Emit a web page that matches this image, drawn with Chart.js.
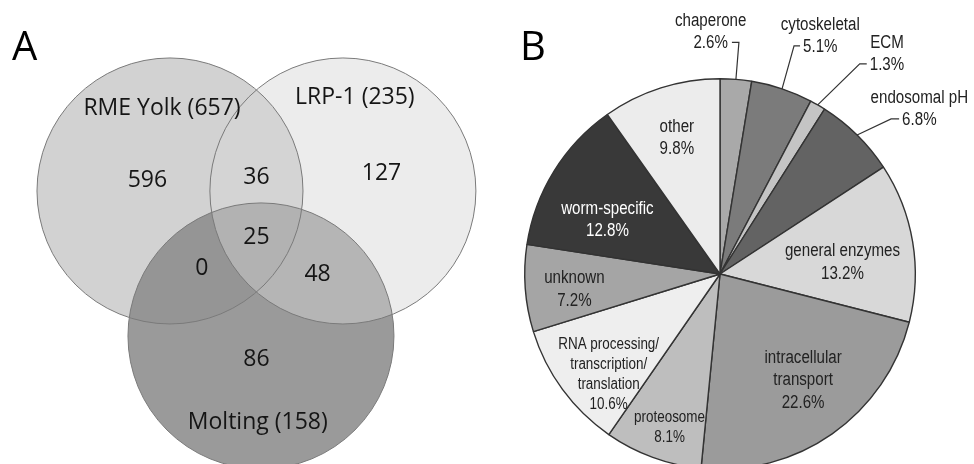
<!DOCTYPE html>
<html>
<head>
<meta charset="utf-8">
<script src="https://cdn.jsdelivr.net/npm/chart.js@4.4.1/dist/chart.umd.min.js"></script>
<style>
  body { margin: 0; background: #fff; overflow: hidden; }
  #wrap { position: relative; width: 974px; height: 464px; overflow: hidden; }
  #venn { position: absolute; left: 0; top: 0; }
  #pie { position: absolute; left: 490px; top: 0; }
</style>
</head>
<body>
<div id="wrap">
  <canvas id="venn" width="490" height="464"></canvas>
  <canvas id="pie" width="484" height="490"></canvas>
</div>
<script>
// ---- panel A: venn ----
const setNames = ['RME Yolk', 'LRP-1', 'Molting'];
const setTotals = [657, 235, 158];
// only RME, only LRP-1, only Molting, RME+LRP-1, RME+Molting, LRP-1+Molting, all three
const regionCounts = [596, 127, 86, 36, 0, 48, 25];

// ---- panel B: pie ----
const categories = ['chaperone', 'cytoskeletal', 'ECM', 'endosomal pH', 'general enzymes',
  'intracellular transport', 'proteosome', 'RNA processing/transcription/translation',
  'unknown', 'worm-specific', 'other'];
const percents = [2.6, 5.1, 1.3, 6.8, 13.2, 22.6, 8.1, 10.6, 7.2, 12.8, 9.8];
const labelLines = [['chaperone'], ['cytoskeletal'], ['ECM'], ['endosomal pH'], ['general enzymes'],
  ['intracellular', 'transport'], ['proteosome'], ['RNA processing/', 'transcription/', 'translation'],
  ['unknown'], ['worm-specific'], ['other']];

// venn layout, in circle-radius units (radius = 1)
const circleCenters = [[0, 0], [1.3, 0], [0.684, -1.09]];
const circleFills = ['rgb(210,210,210)', 'rgba(213,213,213,0.46)', 'rgba(141,141,141,0.89)'];
const drawOrder = [0, 2, 1];
const regionPos = [[-0.17, 0.08], [1.59, 0.135], [0.65, -1.27], [0.65, 0.105], [0.24, -0.58], [1.11, -0.63], [0.65, -0.35]];
const setLabelPos = [[-0.06, 0.62], [1.39, 0.70], [0.66, -1.74]];

const vennText = {
  id: 'vennText',
  afterDatasetsDraw(chart) {
    const { ctx, scales: { x, y } } = chart;
    ctx.save();
    ctx.fillStyle = '#151515';
    ctx.textAlign = 'center';
    ctx.textBaseline = 'middle';
    ctx.font = '23px "Open Sans"';
    regionCounts.forEach((n, i) => {
      ctx.fillText(String(n), x.getPixelForValue(regionPos[i][0]), y.getPixelForValue(regionPos[i][1]));
    });
    setNames.forEach((name, i) => {
      ctx.fillText(name + ' (' + setTotals[i] + ')', x.getPixelForValue(setLabelPos[i][0]), y.getPixelForValue(setLabelPos[i][1]));
    });
    ctx.font = '40px "Open Sans"';
    ctx.textAlign = 'left';
    ctx.textBaseline = 'alphabetic';
    ctx.fillStyle = '#000';
    ctx.fillText('A', 12, 60);
    ctx.restore();
  }
};

// radius of one unit circle, taken from the x scale
const unitPx = (ctx) => {
  const xs = ctx.chart.scales.x;
  return xs ? xs.getPixelForValue(1) - xs.getPixelForValue(0) : 0;
};

new Chart(document.getElementById('venn'), {
  type: 'scatter',
  data: {
    datasets: [
      {
        label: 'outline',
        data: circleCenters.map(c => ({ x: c[0], y: c[1] })),
        pointBackgroundColor: 'rgba(0,0,0,0)',
        pointBorderColor: '#7a7a7a',
        pointBorderWidth: 1,
        pointRadius: unitPx,
        order: 0
      },
      {
        label: 'fill',
        data: drawOrder.map(i => ({ x: circleCenters[i][0], y: circleCenters[i][1] })),
        pointBackgroundColor: drawOrder.map(i => circleFills[i]),
        pointBorderWidth: 0,
        pointRadius: unitPx,
        order: 1
      }
    ]
  },
  options: {
    responsive: false,
    animation: false,
    events: [],
    layout: { autoPadding: false, padding: 0 },
    scales: {
      x: { type: 'linear', min: -1.278, max: 2.406, display: false },
      y: { type: 'linear', min: -2.053, max: 1.436, display: false }
    },
    plugins: { legend: { display: false }, tooltip: { enabled: false } }
  },
  plugins: [vennText]
});

// pie label layout
const sliceColors = ['#a9a9a9', '#7b7b7b', '#c4c4c4', '#636363', '#d8d8d8', '#9b9b9b',
  '#bebebe', '#eeeeee', '#a5a5a5', '#393939', '#ececec'];
const insideLabels = [null, null, null, null,
  { frac: 0.63, shift: 4, size: 18, lh: 23 },
  { frac: 0.69, shift: -3, size: 18, lh: 22.5 },
  { frac: 0.83, shift: -2, size: 16, lh: 20 },
  { frac: 0.77, shift: -6, size: 16, lh: 20 },
  { frac: 0.75, shift: -2, size: 18, lh: 23 },
  { frac: 0.64, shift: -6, size: 18, lh: 22, color: '#fff' },
  { frac: 0.73, shift: 0, size: 18, lh: 22 }];
const outsideLabels = [
  { ex: 3, ey: -37, tx: -7 },
  { ex: 12, ey: -43, tx: 6 },
  { ex: 42, ey: -41, tx: 7 },
  { ex: 34, ey: -16, tx: 8 }];
const narrow = 0.84; // the figure uses a condensed sans

function narrowText(ctx, t, x, y) {
  ctx.save();
  ctx.translate(x, y);
  ctx.scale(narrow, 1);
  ctx.fillText(t, 0, 0);
  ctx.restore();
}

const pieText = {
  id: 'pieText',
  afterDatasetsDraw(chart) {
    const ctx = chart.ctx;
    const arcs = chart.getDatasetMeta(0).data;
    const font = (s) => s + 'px "Liberation Sans", Arial, sans-serif';
    ctx.save();
    ctx.textBaseline = 'middle';
    ctx.textAlign = 'center';
    arcs.forEach((arc, i) => {
      const p = arc.getProps(['x', 'y', 'startAngle', 'endAngle', 'outerRadius'], true);
      const mid = (p.startAngle + p.endAngle) / 2;
      const lines = labelLines[i].concat([percents[i].toFixed(1) + '%']);
      const inside = insideLabels[i];
      if (inside) {
        const a = mid + inside.shift * Math.PI / 180;
        const cx = p.x + Math.cos(a) * p.outerRadius * inside.frac;
        const cy = p.y + Math.sin(a) * p.outerRadius * inside.frac;
        ctx.font = font(inside.size);
        ctx.fillStyle = inside.color || '#222';
        lines.forEach((t, k) => {
          narrowText(ctx, t, cx, cy + (k - (lines.length - 1) / 2) * inside.lh);
        });
        return;
      }
      const o = outsideLabels[i];
      const ex0 = p.x + Math.cos(mid) * p.outerRadius;
      const ey0 = p.y + Math.sin(mid) * p.outerRadius;
      const ex1 = ex0 + o.ex, ey1 = ey0 + o.ey;
      const tx = ex1 + o.tx;
      ctx.strokeStyle = '#333';
      ctx.lineWidth = 1.2;
      ctx.beginPath();
      ctx.moveTo(ex0, ey0);
      ctx.lineTo(ex1, ey1);
      ctx.lineTo(tx, ey1);
      ctx.stroke();
      ctx.font = font(18);
      ctx.fillStyle = '#222';
      const pct = lines[lines.length - 1];
      const w = ctx.measureText(pct).width * narrow;
      const centerX = o.tx < 0 ? tx - 4 - w / 2 : tx + 3 + w / 2;
      narrowText(ctx, pct, centerX, ey1 + 1);
      narrowText(ctx, lines[0], centerX, ey1 + 1 - 22);
    });
    ctx.font = '40px "Open Sans"';
    ctx.textAlign = 'left';
    ctx.textBaseline = 'alphabetic';
    ctx.fillStyle = '#000';
    ctx.fillText('B', 30, 60);
    ctx.restore();
  }
};

new Chart(document.getElementById('pie'), {
  type: 'pie',
  data: {
    labels: categories,
    datasets: [{
      data: percents,
      backgroundColor: sliceColors,
      borderColor: '#333',
      borderWidth: 1.4
    }]
  },
  options: {
    responsive: false,
    animation: false,
    events: [],
    layout: { padding: { left: 34, right: 58, top: 78, bottom: 20 } },
    plugins: { legend: { display: false }, tooltip: { enabled: false } }
  },
  plugins: [pieText]
});
</script>
</body>
</html>
